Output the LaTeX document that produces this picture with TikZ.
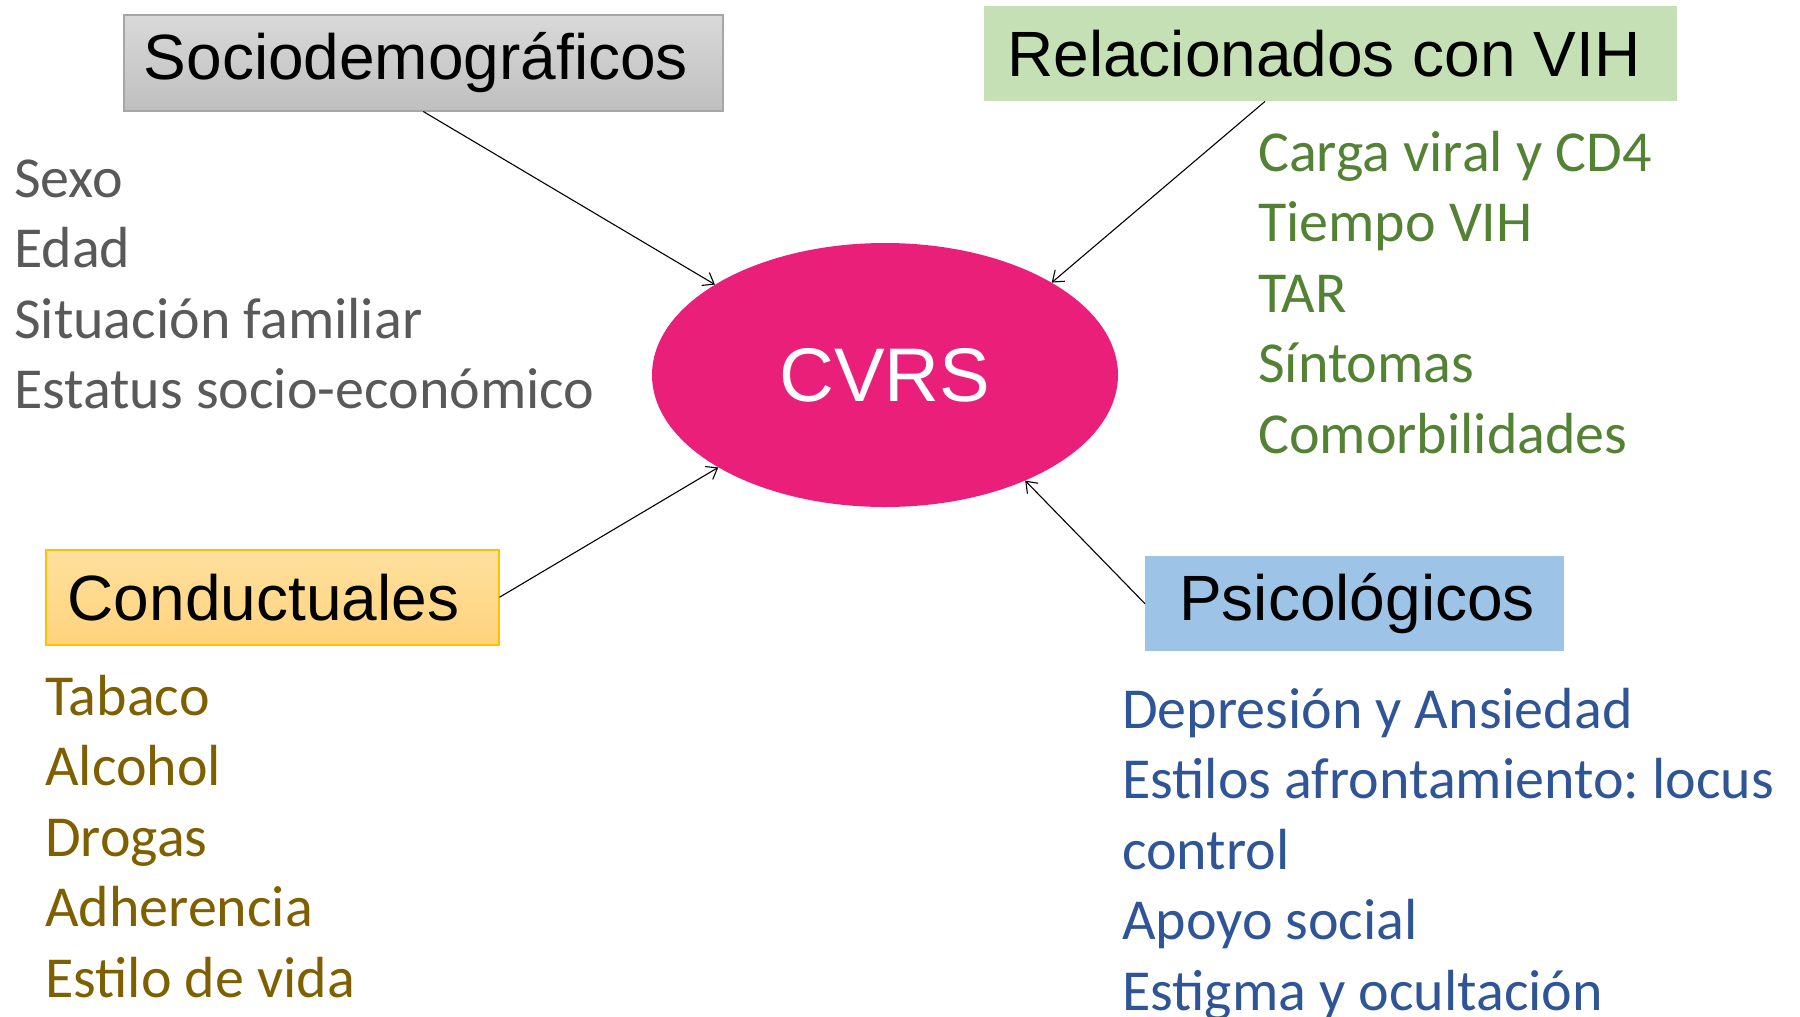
\documentclass[tikz,border=0pt]{standalone}
\usepackage{fontspec}
\setmainfont{Carlito}
\newfontfamily\arialfont{Liberation Sans}
\usetikzlibrary{shapes.geometric,arrows.meta}
\definecolor{cvrspink}{HTML}{EA1F7A}
\definecolor{socgray}{HTML}{595959}
\definecolor{vihgreen}{HTML}{548235}
\definecolor{conbrown}{HTML}{7F6000}
\definecolor{psiblue}{HTML}{2F5597}
\definecolor{socfilltop}{HTML}{D9D9D9}
\definecolor{socfillbot}{HTML}{BFBFBF}
\definecolor{socline}{HTML}{A6A6A6}
\definecolor{vihfill}{HTML}{C5E0B4}
\definecolor{confilltop}{HTML}{FEE09D}
\definecolor{confillbot}{HTML}{FFD37D}
\definecolor{conline}{HTML}{FFC000}
\definecolor{psifill}{HTML}{9DC3E6}
\newcommand\plainsp{\spaceskip=0pt\xspaceskip=0pt}
\frenchspacing

\tikzset{
  catbox/.style={anchor=north west, inner ysep=0pt, minimum height=95pt, align=left,
    font=\arialfont\fontsize{64}{70}\selectfont},
  item/.style={anchor=base west, inner sep=0pt, font=\fontsize{58}{70}\selectfont},
  link/.style={line width=1.1pt, -{Straight Barb[length=10pt,width=15pt]}},
}

\begin{document}
\begin{tikzpicture}[x=1pt,y=-1pt]
\useasboundingbox (0,0) rectangle (1800,1017);

% centre
\node [ellipse, fill=cvrspink, minimum width=466pt, minimum height=264pt, inner sep=0pt,
  text=white, font=\arialfont\fontsize{76}{80}\selectfont] (cvrs) at (885,375) {CVRS};

% categories
\node [catbox, text width=559pt, inner xsep=20pt, minimum height=96pt, draw=socline, line width=1.5pt,
  top color=socfilltop, bottom color=socfillbot] (soc) at (123,14) {Sociodemográficos};
\node [catbox, text width=647pt, inner xsep=23pt, fill=vihfill] (vih) at (984,6) {\plainsp Relacionados con VIH};
\node [catbox, text width=409pt, inner xsep=22pt, draw=conline, line width=1.5pt,
  top color=confilltop, bottom color=confillbot] (con) at (45,549) {Conductuales};
\node [catbox, text width=351pt, inner xsep=34pt, fill=psifill] (psi) at (1145,556) {Psicológicos};

% lists
\foreach \txt [count=\i] in {Sexo, Edad, Situación familiar, Estatus socio-económico}
  \node [item, text=socgray] (soc\i) at (14,126.5+70.5*\i) {\txt};
\foreach \txt [count=\i] in {Carga viral y CD4, Tiempo VIH, TAR, Síntomas, Comorbilidades}
  \node [item, text=vihgreen] (vih\i) at (1258,100.5+70.5*\i) {\txt};
\foreach \txt [count=\i] in {Tabaco, Alcohol, Drogas, Adherencia, Estilo de vida}
  \node [item, text=conbrown] (con\i) at (45,644.5+70.5*\i) {\txt};
\foreach \txt [count=\i] in {Depresión y Ansiedad, Estilos afrontamiento: locus, control, Apoyo social, Estigma y ocultación}
  \node [item, text=psiblue] (psi\i) at (1122,657.5+70.5*\i) {\txt};

% arrows
\draw [link] (soc.south) -- (cvrs.152.7);
\draw [link] (vih.216) -- (cvrs.29.6);
\draw [link] (con.east) -- (cvrs.209.6);
\draw [link] (psi.west) -- (cvrs.323.1);
\end{tikzpicture}
\end{document}
